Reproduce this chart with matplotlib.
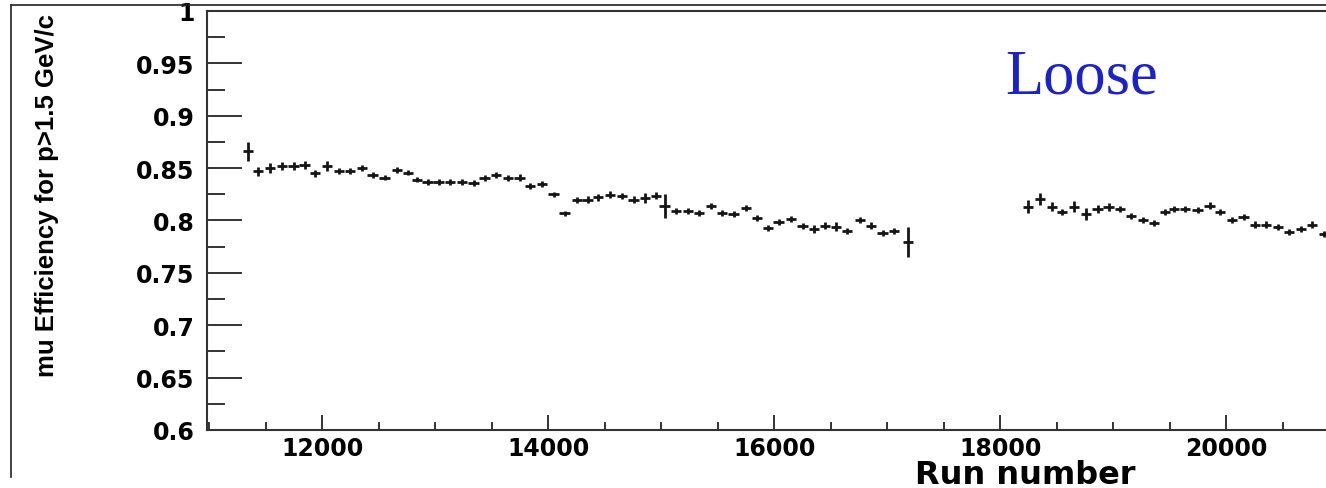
import numpy as np
import matplotlib.pyplot as plt
from matplotlib.lines import Line2D
from matplotlib.ticker import MultipleLocator, FuncFormatter

# run-by-run muon efficiency (loose selection)
run = [11342, 11431, 11534, 11643, 11746, 11843, 11938, 12042, 12150, 12248, 12351, 12445, 12551, 12661, 12758, 12838,
       12932, 13029, 13133, 13236, 13339, 13436, 13540, 13643, 13746, 13841, 13944, 14047, 14144, 14254, 14348, 14442,
       14549, 14652, 14755, 14858, 14956, 15029, 15133, 15236, 15336, 15442, 15537, 15640, 15750, 15847, 15944, 16038,
       16150, 16250, 16354, 16451, 16549, 16643, 16761, 16858, 16958, 17056, 17183,
       18242, 18354, 18458, 18546, 18649, 18761, 18861, 18958, 19056, 19157, 19263, 19363, 19456, 19540,
       19637, 19746, 19852, 19947, 20050, 20153, 20257, 20354, 20457, 20555, 20658, 20761, 20863]
eff = [0.866, 0.847, 0.850, 0.852, 0.852, 0.853, 0.845, 0.852, 0.847, 0.847, 0.850, 0.8435, 0.841, 0.8485, 0.8455, 0.839,
       0.837, 0.8365, 0.837, 0.837, 0.836, 0.8405, 0.8435, 0.8405, 0.841, 0.833, 0.835, 0.825, 0.807, 0.8195, 0.820, 0.822,
       0.8247, 0.8232, 0.820, 0.8213, 0.8238, 0.8142, 0.8094, 0.8094, 0.8072, 0.8136, 0.8072, 0.8063, 0.8117, 0.8022, 0.7926, 0.7985,
       0.8015, 0.7945, 0.792, 0.7951, 0.7942, 0.7898, 0.8006, 0.7951, 0.7879, 0.7903, 0.7793,
       0.8132, 0.8206, 0.8132, 0.8079, 0.8132, 0.8063, 0.8111, 0.8127, 0.8111, 0.8041, 0.8006, 0.7974, 0.8079, 0.8111,
       0.8111, 0.8101, 0.8142, 0.8079, 0.8006, 0.8031, 0.7961, 0.7961, 0.7936, 0.7888, 0.7920, 0.7961, 0.7872]
err = [0.009, 0.0045, 0.0045, 0.004, 0.004, 0.004, 0.0035, 0.0045, 0.003, 0.003, 0.003, 0.0025, 0.0025, 0.003, 0.0025, 0.0025,
       0.003, 0.003, 0.003, 0.003, 0.003, 0.003, 0.003, 0.003, 0.003, 0.003, 0.003, 0.0025, 0.0025, 0.003, 0.003, 0.003,
       0.003, 0.003, 0.003, 0.0045, 0.003, 0.0115, 0.003, 0.003, 0.003, 0.003, 0.003, 0.003, 0.003, 0.003, 0.003, 0.003,
       0.003, 0.003, 0.004, 0.003, 0.004, 0.003, 0.003, 0.003, 0.003, 0.003, 0.0145,
       0.006, 0.006, 0.004, 0.003, 0.005, 0.006, 0.004, 0.004, 0.003, 0.003, 0.003, 0.003, 0.003, 0.003,
       0.003, 0.003, 0.003, 0.003, 0.003, 0.003, 0.003, 0.003, 0.003, 0.003, 0.003, 0.003, 0.003]
bin_half = 45  # half width of a run group


def plot_data():
    W, H = 1326, 489
    fig = plt.figure(figsize=(W / 100, H / 100), dpi=100)
    # frame runs past the right edge of the canvas
    ax = fig.add_axes([207 / W, 58 / H, 1243 / W, 419 / H])

    dark = '#151515'
    frame = '#333333'
    ax.errorbar(run, eff, xerr=bin_half, yerr=err, fmt='none',
                ecolor=dark, elinewidth=2.0, capsize=0)

    ax.set_xlim(10980, 21980)
    ax.set_ylim(0.6, 1.0)

    ax.xaxis.set_major_locator(MultipleLocator(2000))
    ax.xaxis.set_minor_locator(MultipleLocator(500))
    ax.yaxis.set_major_locator(MultipleLocator(0.05))
    ax.yaxis.set_minor_locator(MultipleLocator(0.025))
    ax.yaxis.set_major_formatter(FuncFormatter(lambda v, p: '%g' % round(v, 3)))

    for s in ax.spines.values():
        s.set_linewidth(1.5)
        s.set_color(frame)

    ax.tick_params(axis='y', which='major', direction='in', length=25, width=1.4,
                   color=frame, pad=9)
    ax.tick_params(axis='y', which='minor', direction='in', length=13, width=1.4,
                   color=frame)
    ax.tick_params(axis='x', which='major', direction='in', length=11, width=1.4,
                   color=frame, pad=4)
    ax.tick_params(axis='x', which='minor', direction='in', length=6, width=1.4,
                   color=frame)
    for lab in ax.get_xticklabels() + ax.get_yticklabels():
        lab.set_fontfamily('DejaVu Sans')
        lab.set_fontweight('bold')
        lab.set_fontsize(17)

    # axis titles
    fig.text(47 / W, 1 - 14 / H, 'mu Efficiency for p>1.5 GeV/c', rotation=90,
             ha='center', va='top', fontsize=18.5, fontweight='bold',
             family='Liberation Sans')
    fig.text(915 / W, 5 / H, 'Run number', ha='left', va='baseline',
             fontsize=23, fontweight='bold', family='DejaVu Sans')

    fig.text(1005 / W, 1 - 93 / H, 'Loose', ha='left', va='baseline',
             fontsize=45, color='#1a22c8', family='Liberation Serif')

    # canvas border
    fig.add_artist(Line2D([11 / W, 11 / W], [1 - 478 / H, 1 - 6 / H],
                          color='#222222', lw=1.2))
    fig.add_artist(Line2D([11 / W, 1.0], [1 - 6 / H, 1 - 6 / H],
                          color='#222222', lw=1.2))

    fig.savefig('out.png', dpi=100)


def main():
    plot_data()


if __name__ == '__main__':
    main()
